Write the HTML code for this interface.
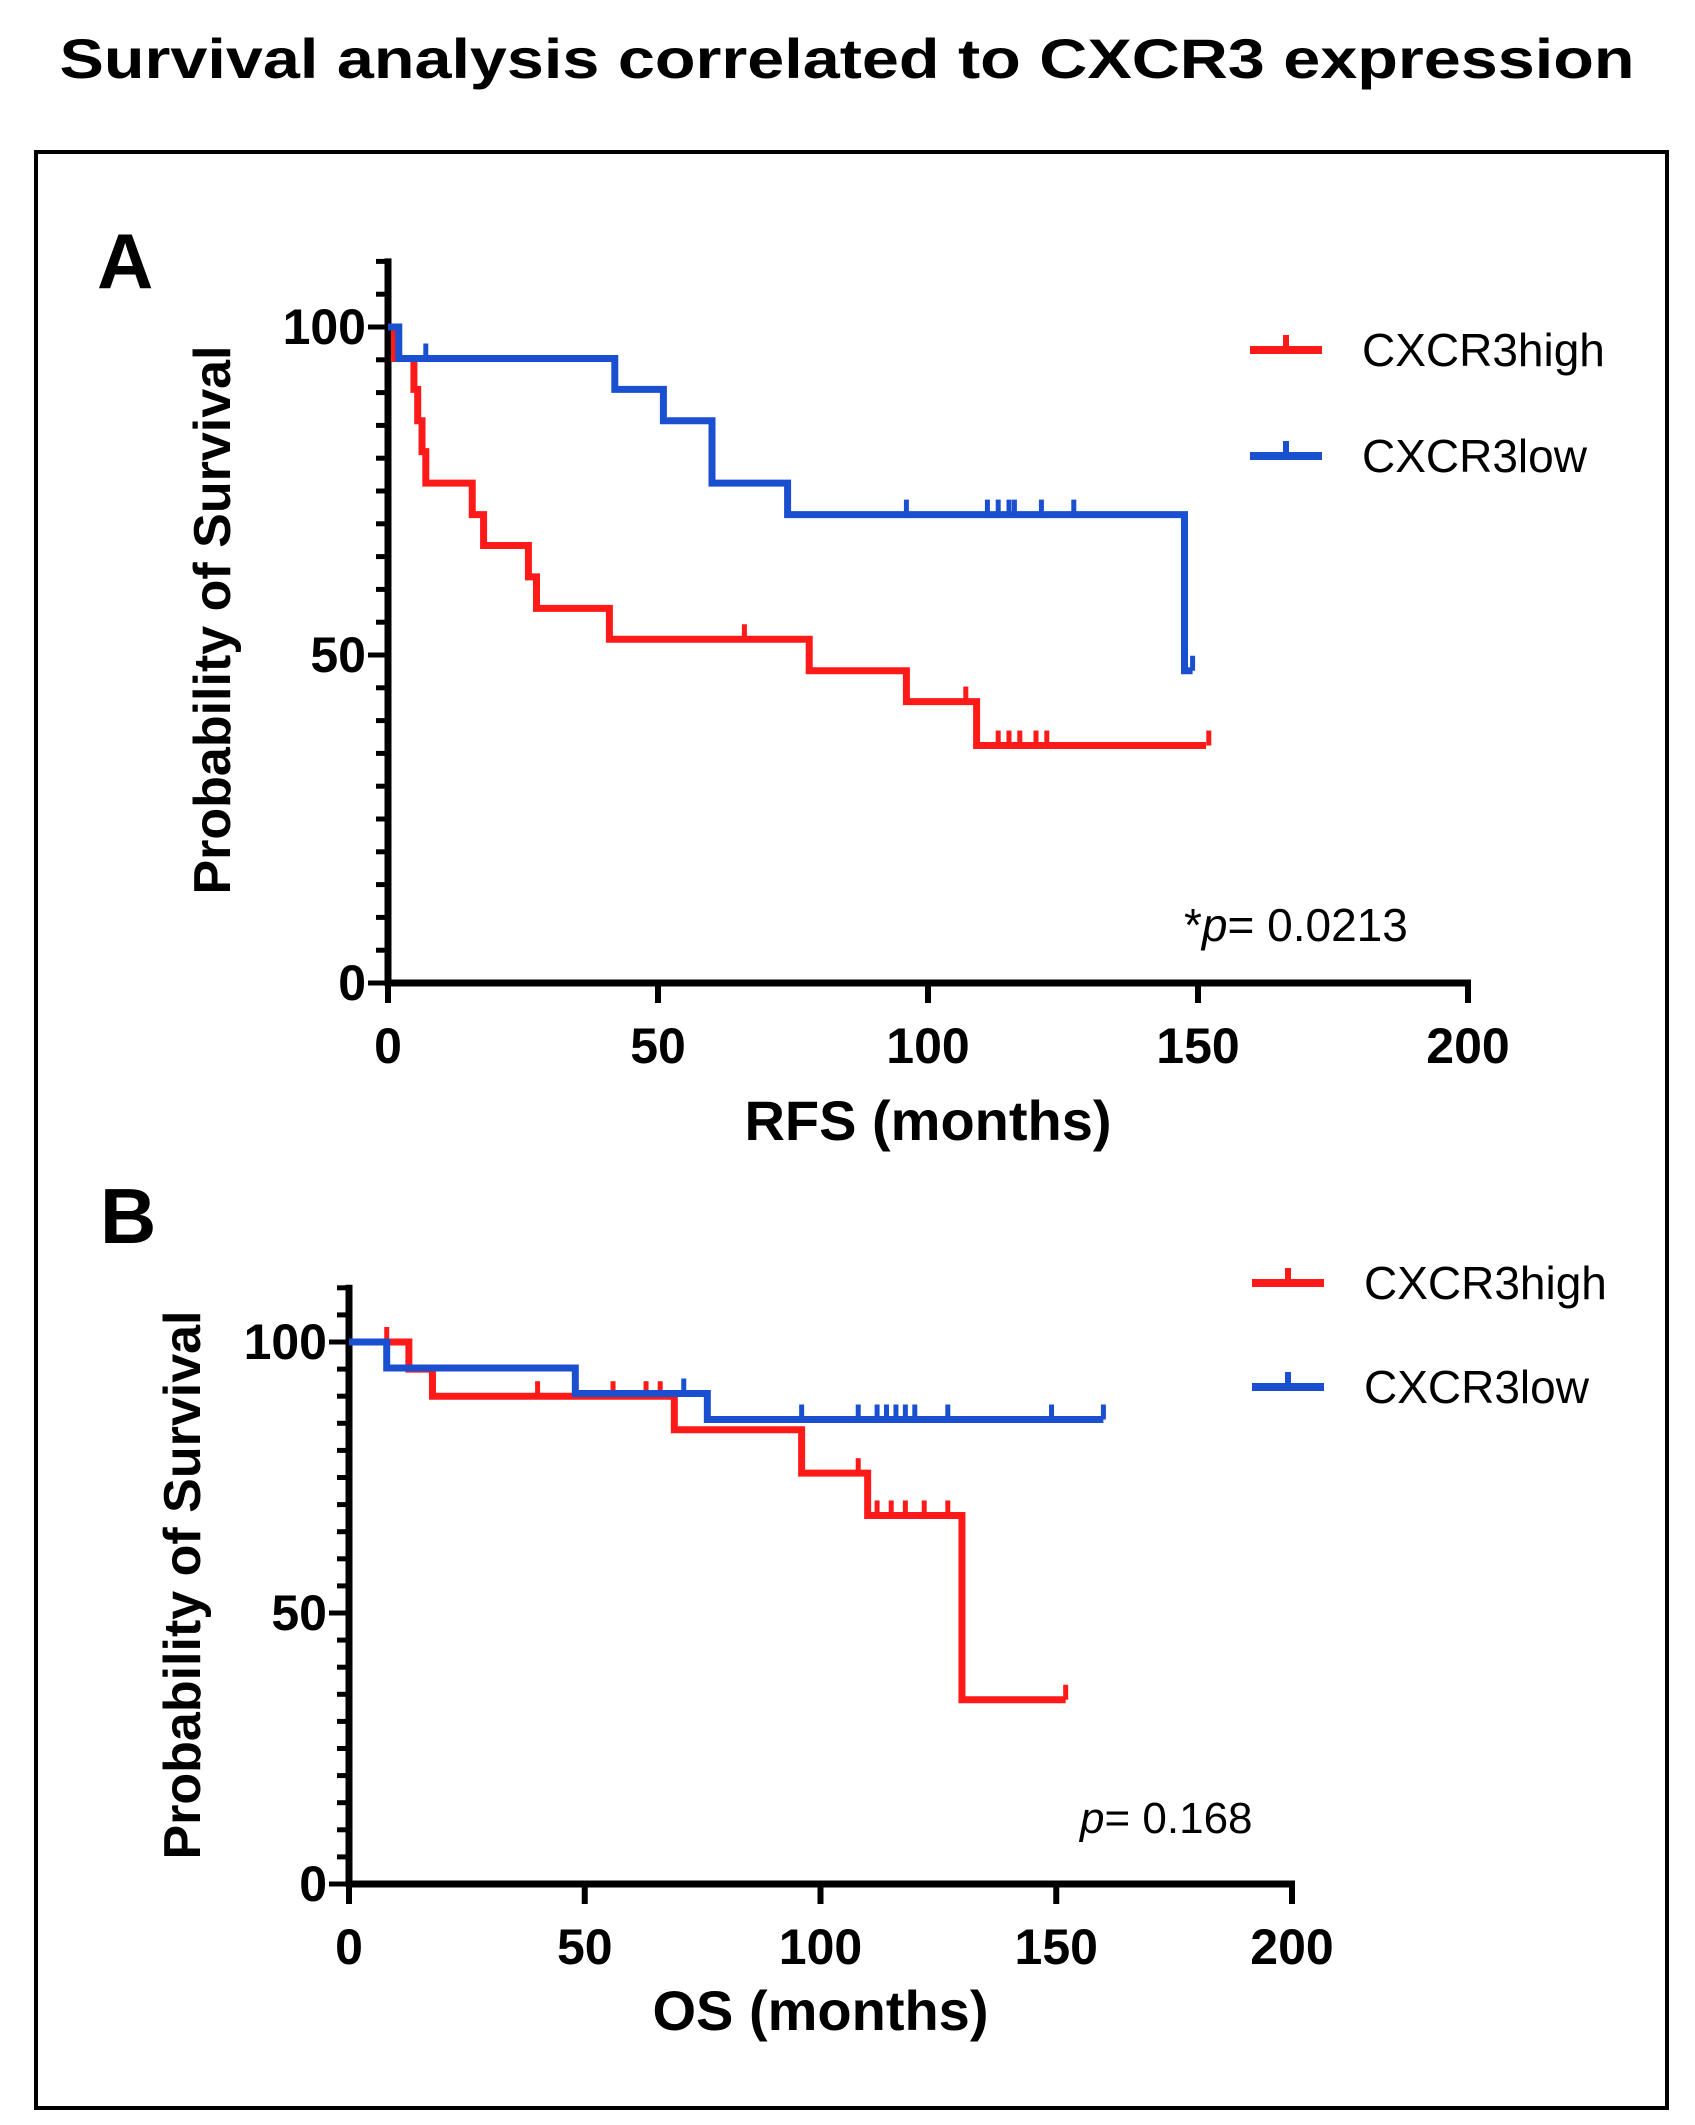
<!DOCTYPE html>
<html><head><meta charset="utf-8">
<style>
html,body{margin:0;padding:0;background:#fff;}
svg{display:block;font-family:"Liberation Sans",Arial,sans-serif;}
</style></head>
<body>
<svg id="fig" width="1695" height="2125" viewBox="0 0 1695 2125" xmlns="http://www.w3.org/2000/svg">
<text x="847" y="78" text-anchor="middle" font-size="56" font-weight="bold" textLength="1575" lengthAdjust="spacingAndGlyphs">Survival analysis correlated to CXCR3 expression</text>
<rect x="36" y="152" width="1631" height="1956" fill="none" stroke="#000" stroke-width="4"/>
<g id="panelA"></g>
<g id="panelB"></g>
</svg>
<script>
// Panel A (RFS) data
const xTicks = [0, 50, 100, 150, 200];
const yTicks = [0, 50, 100];
const aHighTimes = [0, 1.2, 4.8, 5.5, 6.3, 7, 15.6, 17.7, 26, 27.5, 41, 78, 96, 109];
const aHighSurv  = [100, 95.2, 90.5, 85.7, 81, 76.2, 71.4, 66.7, 61.9, 57.1, 52.4, 47.6, 42.9, 36.2];
const aHighEnd   = 151.5;
const aHighCens  = [66, 107, 113, 115, 117, 120, 122, 152];
const aLowTimes  = [0, 2, 42, 51, 60, 74, 147.5];
const aLowSurv   = [100, 95.2, 90.5, 85.7, 76.2, 71.4, 47.6];
const aLowEnd    = 149;
const aLowCens   = [7, 96, 111, 113, 115, 116, 121, 127, 149];
// Panel B (OS) data
const bHighTimes = [0, 12.7, 17.7, 69, 96, 110, 130];
const bHighSurv  = [100, 95, 90, 83.8, 75.8, 68, 34];
const bHighEnd   = 152;
const bHighCens  = [8, 40, 56, 63, 66, 108, 112, 115, 118, 122, 127, 152];
const bLowTimes  = [0, 8, 48, 76];
const bLowSurv   = [100, 95.2, 90.5, 85.7];
const bLowEnd    = 160;
const bLowCens   = [71, 96, 108, 112, 114, 116, 118, 120, 127, 149, 160];

const NS = "http://www.w3.org/2000/svg";
function mk(tag, attrs, parent, txt){
  const e = document.createElementNS(NS, tag);
  for (const k in attrs) e.setAttribute(k, attrs[k]);
  if (txt !== undefined) e.textContent = txt;
  parent.appendChild(e);
  return e;
}

function panel(g, P){
  const sx = v => P.x0 + (P.x1 - P.x0) * v / 200;
  const sy = v => P.y0 - (P.y0 - P.y100) * v / 100;
  const L = mk("text", {x: P.letterX, y: P.letterY, "font-size": 78, "font-weight": "bold"}, g, P.letter);
  
  
  const ya = mk("line", {x1: P.x0, y1: sy(110) - 3, x2: P.x0, y2: P.y0 + 3, stroke: "#000", "stroke-width": 7}, g);
  
  
  for (let v = 0; v <= 110; v += 5) {
    const major = yTicks.includes(v);
    const t = mk("line", {x1: P.x0 - (major ? 20 : 12), y1: sy(v), x2: P.x0, y2: sy(v), stroke: "#000", "stroke-width": 5}, g);
    
    
  }
  yTicks.forEach(v => {
    const t = mk("text", {x: P.x0 - 22, y: sy(v) + 17, "font-size": 50, "font-weight": "bold", "text-anchor": "end"}, g, String(v));
    
    
  });
  const xa = mk("line", {x1: P.x0 - 3, y1: P.y0, x2: P.x1 + 3, y2: P.y0, stroke: "#000", "stroke-width": 7}, g);
  
  
  xTicks.forEach(v => {
    const t = mk("line", {x1: sx(v), y1: P.y0, x2: sx(v), y2: P.y0 + 20, stroke: "#000", "stroke-width": 6}, g);
    
    
    const l = mk("text", {x: sx(v), y: P.y0 + 80, "font-size": 50, "font-weight": "bold", "text-anchor": "middle"}, g, String(v));
    
    
  });
  const xt = mk("text", {x: (P.x0 + P.x1) / 2, y: P.xTitleY, "font-size": 56, "font-weight": "bold", "text-anchor": "middle"}, g, P.xTitle);
  
  
  const yt = mk("text", {x: 0, y: 0, "font-size": 52, "font-weight": "bold", "text-anchor": "middle", transform: `translate(${P.yTitleX},${P.yTitleY}) rotate(-90)`}, g, "Probability of Survival");
  
  

  P.series.forEach(S => {
    let d = `M${sx(S.times[0])},${sy(S.surv[0])}`;
    for (let i = 1; i < S.times.length; i++) {
      d += ` H${sx(S.times[i])} V${sy(S.surv[i])}`;
    }
    d += ` H${sx(S.end)}`;
    const p = mk("path", {d: d, fill: "none", stroke: S.color, "stroke-width": 7, "stroke-linejoin": "miter"}, g);
    
    
    S.cens.forEach(c => {
      let s = S.surv[0];
      for (let i = 0; i < S.times.length; i++) if (S.times[i] <= c) s = S.surv[i];
      const m = mk("line", {x1: sx(c), y1: sy(s), x2: sx(c), y2: sy(s) - 15, stroke: S.color, "stroke-width": 5}, g);
      
      
    });
  });
  P.series.forEach((S, i) => {
    const ly = P.legY + i * P.legGap;
    const ll = mk("line", {x1: P.legX, y1: ly, x2: P.legX + 72, y2: ly, stroke: S.color, "stroke-width": 8}, g);
    
    
    const lt = mk("line", {x1: P.legX + 36, y1: ly, x2: P.legX + 36, y2: ly - 15, stroke: S.color, "stroke-width": 6}, g);
    
    
    const tx = mk("text", {x: P.legX + 112, y: ly + 16, "font-size": 46}, g, S.label);
    
    
  });
  const pv = mk("text", {x: P.pX, y: P.pY, "font-size": P.pSize}, g);
  
  
  pv.innerHTML = P.pPrefix + '<tspan font-style="italic">p</tspan>= ' + P.pVal;
}

panel(document.getElementById('panelA'), {
  x0: 388, x1: 1468, y0: 983, y100: 327, letter: "A", letterX: 97, letterY: 288,
  xTitle: "RFS (months)", xTitleY: 1140, yTitleX: 230, yTitleY: 620,
  legX: 1250, legY: 350, legGap: 106, pX: 1184, pY: 941, pSize: 46, pPrefix: "*", pVal: "0.0213",
  series: [
    {name: "cxcr3-high", label: "CXCR3high", color: "#ff1a1a", times: aHighTimes, surv: aHighSurv, end: aHighEnd, cens: aHighCens},
    {name: "cxcr3-low", label: "CXCR3low", color: "#1a4fd0", times: aLowTimes, surv: aLowSurv, end: aLowEnd, cens: aLowCens}
  ]
});
panel(document.getElementById('panelB'), {
  x0: 349, x1: 1292, y0: 1884, y100: 1342, letter: "B", letterX: 100, letterY: 1243,
  xTitle: "OS (months)", xTitleY: 2030, yTitleX: 200, yTitleY: 1585,
  legX: 1252, legY: 1283, legGap: 104, pX: 1080, pY: 1833, pSize: 44, pPrefix: "", pVal: "0.168",
  series: [
    {name: "cxcr3-high", label: "CXCR3high", color: "#ff1a1a", times: bHighTimes, surv: bHighSurv, end: bHighEnd, cens: bHighCens},
    {name: "cxcr3-low", label: "CXCR3low", color: "#1a4fd0", times: bLowTimes, surv: bLowSurv, end: bLowEnd, cens: bLowCens}
  ]
});
</script>
</body></html>
